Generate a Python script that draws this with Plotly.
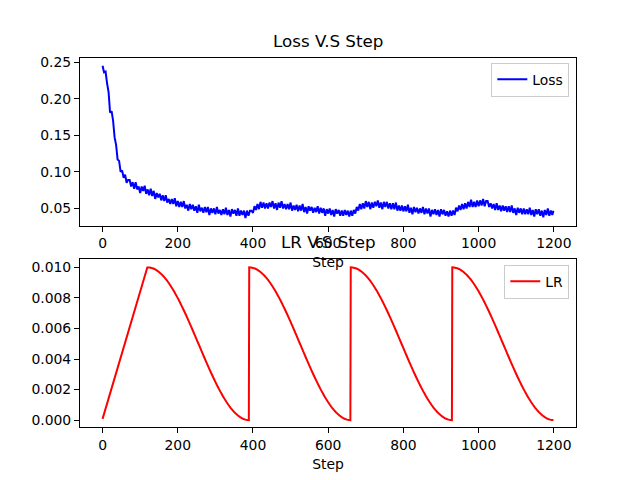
import plotly.graph_objects as go

# ---------------- data ----------------
loss_steps = list(range(0, 1200, 4)) + [1199]
loss_values = [
    0.245, 0.236, 0.237, 0.221, 0.209, 0.181, 0.183, 0.170, 0.147, 0.137,
    0.117, 0.115, 0.100, 0.102, 0.092, 0.096, 0.085, 0.089, 0.089, 0.080,
    0.086, 0.077, 0.086, 0.076, 0.080, 0.071, 0.080, 0.074, 0.081, 0.070,
    0.076, 0.068, 0.077, 0.067, 0.074, 0.063, 0.071, 0.065, 0.070, 0.061,
    0.068, 0.060, 0.068, 0.058, 0.063, 0.056, 0.063, 0.056, 0.064, 0.053,
    0.060, 0.052, 0.059, 0.052, 0.060, 0.050, 0.055, 0.047, 0.056, 0.049,
    0.055, 0.047, 0.053, 0.044, 0.055, 0.046, 0.051, 0.044, 0.052, 0.045,
    0.052, 0.041, 0.050, 0.044, 0.050, 0.042, 0.052, 0.043, 0.048, 0.041,
    0.049, 0.042, 0.051, 0.041, 0.048, 0.039, 0.049, 0.043, 0.048, 0.040,
    0.050, 0.040, 0.047, 0.041, 0.047, 0.037, 0.047, 0.040, 0.047, 0.047,
    0.044, 0.053, 0.048, 0.056, 0.049, 0.059, 0.051, 0.058, 0.050, 0.057,
    0.050, 0.058, 0.052, 0.060, 0.050, 0.057, 0.048, 0.058, 0.051, 0.060,
    0.050, 0.056, 0.049, 0.056, 0.049, 0.058, 0.047, 0.054, 0.048, 0.055,
    0.046, 0.054, 0.047, 0.056, 0.045, 0.052, 0.043, 0.053, 0.047, 0.052,
    0.044, 0.051, 0.045, 0.053, 0.043, 0.051, 0.044, 0.050, 0.040, 0.049,
    0.043, 0.050, 0.041, 0.048, 0.039, 0.049, 0.043, 0.048, 0.040, 0.047,
    0.040, 0.048, 0.041, 0.047, 0.039, 0.047, 0.040, 0.048, 0.043, 0.052,
    0.047, 0.056, 0.049, 0.057, 0.050, 0.060, 0.052, 0.059, 0.049, 0.058,
    0.051, 0.059, 0.053, 0.061, 0.051, 0.058, 0.049, 0.059, 0.052, 0.059,
    0.050, 0.057, 0.049, 0.057, 0.049, 0.058, 0.047, 0.054, 0.047, 0.054,
    0.046, 0.053, 0.046, 0.055, 0.044, 0.051, 0.042, 0.052, 0.045, 0.051,
    0.043, 0.050, 0.044, 0.052, 0.042, 0.050, 0.043, 0.050, 0.039, 0.048,
    0.042, 0.049, 0.041, 0.048, 0.039, 0.049, 0.042, 0.048, 0.040, 0.046,
    0.039, 0.047, 0.040, 0.047, 0.041, 0.051, 0.046, 0.054, 0.048, 0.056,
    0.049, 0.057, 0.050, 0.059, 0.052, 0.062, 0.052, 0.059, 0.052, 0.061,
    0.053, 0.061, 0.054, 0.063, 0.053, 0.060, 0.060, 0.052, 0.057, 0.050,
    0.056, 0.048, 0.057, 0.048, 0.054, 0.046, 0.054, 0.047, 0.053, 0.045,
    0.053, 0.045, 0.054, 0.044, 0.050, 0.041, 0.051, 0.044, 0.050, 0.042,
    0.050, 0.042, 0.049, 0.042, 0.051, 0.041, 0.048, 0.039, 0.049, 0.042,
    0.049, 0.040, 0.047, 0.038, 0.048, 0.041, 0.050, 0.040, 0.047, 0.041,
    0.047,
]

lr_steps = ([0, 119]
            + list(range(120, 390, 5)) + [389]
            + list(range(390, 660, 5)) + [659]
            + list(range(660, 930, 5)) + [929]
            + list(range(930, 1200, 5)) + [1199])
lr_values = [
    0.000083, 0.010000,
    # cycle 1 (steps 120-389)
    0.010000, 0.009992, 0.009966, 0.009924, 0.009865, 0.009790, 0.009698, 0.009591,
    0.009468, 0.009330, 0.009177, 0.009011, 0.008830, 0.008637, 0.008431, 0.008214,
    0.007986, 0.007748, 0.007500, 0.007244, 0.006980, 0.006710, 0.006434, 0.006153,
    0.005868, 0.005580, 0.005291, 0.005000, 0.004709, 0.004420, 0.004132, 0.003847,
    0.003566, 0.003290, 0.003020, 0.002756, 0.002500, 0.002252, 0.002014, 0.001786,
    0.001569, 0.001363, 0.001170, 0.000989, 0.000823, 0.000670, 0.000532, 0.000409,
    0.000302, 0.000210, 0.000135, 0.000076, 0.000034, 0.000008, 0.000000,
    # cycle 2 (steps 390-659)
    0.010000, 0.009992, 0.009966, 0.009924, 0.009865, 0.009790, 0.009698, 0.009591,
    0.009468, 0.009330, 0.009177, 0.009011, 0.008830, 0.008637, 0.008431, 0.008214,
    0.007986, 0.007748, 0.007500, 0.007244, 0.006980, 0.006710, 0.006434, 0.006153,
    0.005868, 0.005580, 0.005291, 0.005000, 0.004709, 0.004420, 0.004132, 0.003847,
    0.003566, 0.003290, 0.003020, 0.002756, 0.002500, 0.002252, 0.002014, 0.001786,
    0.001569, 0.001363, 0.001170, 0.000989, 0.000823, 0.000670, 0.000532, 0.000409,
    0.000302, 0.000210, 0.000135, 0.000076, 0.000034, 0.000008, 0.000000,
    # cycle 3 (steps 660-929)
    0.010000, 0.009992, 0.009966, 0.009924, 0.009865, 0.009790, 0.009698, 0.009591,
    0.009468, 0.009330, 0.009177, 0.009011, 0.008830, 0.008637, 0.008431, 0.008214,
    0.007986, 0.007748, 0.007500, 0.007244, 0.006980, 0.006710, 0.006434, 0.006153,
    0.005868, 0.005580, 0.005291, 0.005000, 0.004709, 0.004420, 0.004132, 0.003847,
    0.003566, 0.003290, 0.003020, 0.002756, 0.002500, 0.002252, 0.002014, 0.001786,
    0.001569, 0.001363, 0.001170, 0.000989, 0.000823, 0.000670, 0.000532, 0.000409,
    0.000302, 0.000210, 0.000135, 0.000076, 0.000034, 0.000008, 0.000000,
    # cycle 4 (steps 930-1199)
    0.010000, 0.009992, 0.009966, 0.009924, 0.009865, 0.009790, 0.009698, 0.009591,
    0.009468, 0.009330, 0.009177, 0.009011, 0.008830, 0.008637, 0.008431, 0.008214,
    0.007986, 0.007748, 0.007500, 0.007244, 0.006980, 0.006710, 0.006434, 0.006153,
    0.005868, 0.005580, 0.005291, 0.005000, 0.004709, 0.004420, 0.004132, 0.003847,
    0.003566, 0.003290, 0.003020, 0.002756, 0.002500, 0.002252, 0.002014, 0.001786,
    0.001569, 0.001363, 0.001170, 0.000989, 0.000823, 0.000670, 0.000532, 0.000409,
    0.000302, 0.000210, 0.000135, 0.000076, 0.000034, 0.000008, 0.000001,
]

x_ticks = [0, 200, 400, 600, 800, 1000, 1200]
loss_ticks = [0.05, 0.10, 0.15, 0.20, 0.25]
lr_ticks = [0.000, 0.002, 0.004, 0.006, 0.008, 0.010]

# ---------------- figure ----------------
FONT = "DejaVu Sans"
TICK = 13.9
TITLE = 16.7

fig = go.Figure()
fig.add_trace(go.Scatter(x=loss_steps, y=loss_values, mode="lines", name="Loss",
                         line=dict(color="#0000ff", width=2, simplify=False),
                         xaxis="x", yaxis="y", legend="legend", showlegend=True))
fig.add_trace(go.Scatter(x=lr_steps, y=lr_values, mode="lines", name="LR",
                         line=dict(color="#ff0000", width=2, simplify=False),
                         xaxis="x2", yaxis="y2", legend="legend2", showlegend=True))

axis_common = dict(showline=True, linecolor="black", linewidth=1, mirror=True,
                   ticks="outside", ticklen=5, tickwidth=1, tickcolor="black",
                   showgrid=False, zeroline=False,
                   tickfont=dict(family=FONT, size=TICK, color="black"))

top_dom = [0.5455, 1.0]
bot_dom = [0.0, 0.4545]

fig.update_layout(
    width=632, height=472,
    margin=dict(l=72, r=64, t=49.6, b=52.8),
    showlegend=True,
    paper_bgcolor="white", plot_bgcolor="white",
    font=dict(family=FONT, size=TICK, color="black"),
    xaxis=dict(domain=[0, 1], anchor="y", range=[-60, 1259], tickvals=x_ticks,
               title=dict(text="Step", standoff=6, font=dict(family=FONT, size=TICK)),
               **axis_common),
    yaxis=dict(domain=top_dom, anchor="x", range=[0.0264, 0.2556], tickvals=loss_ticks,
               tickformat=".2f", **axis_common),
    xaxis2=dict(domain=[0, 1], anchor="y2", range=[-60, 1259], tickvals=x_ticks,
                title=dict(text="Step", standoff=7, font=dict(family=FONT, size=TICK)),
                **axis_common),
    yaxis2=dict(domain=bot_dom, anchor="x2", range=[-0.00045, 0.01053], tickvals=lr_ticks,
                tickformat=".3f", **axis_common),
    legend=dict(x=0.9865, y=0.987, xanchor="right", yanchor="top",
                bgcolor="rgba(255,255,255,0.8)", bordercolor="#cccccc", borderwidth=1,
                font=dict(family=FONT, size=TICK), itemwidth=30),
    legend2=dict(x=0.9865, y=0.4400, xanchor="right", yanchor="top",
                 bgcolor="rgba(255,255,255,0.8)", bordercolor="#cccccc", borderwidth=1,
                 font=dict(family=FONT, size=TICK), itemwidth=30),
    annotations=[
        dict(text="Loss V.S Step", xref="paper", yref="paper", x=0.5, y=top_dom[1],
             xanchor="center", yanchor="bottom", yshift=5, showarrow=False,
             font=dict(family=FONT, size=TITLE, color="black")),
        dict(text="LR V.S Step", xref="paper", yref="paper", x=0.5, y=bot_dom[1],
             xanchor="center", yanchor="bottom", yshift=5, showarrow=False,
             font=dict(family=FONT, size=TITLE, color="black")),
    ],
)

fig.write_html("out.html")
